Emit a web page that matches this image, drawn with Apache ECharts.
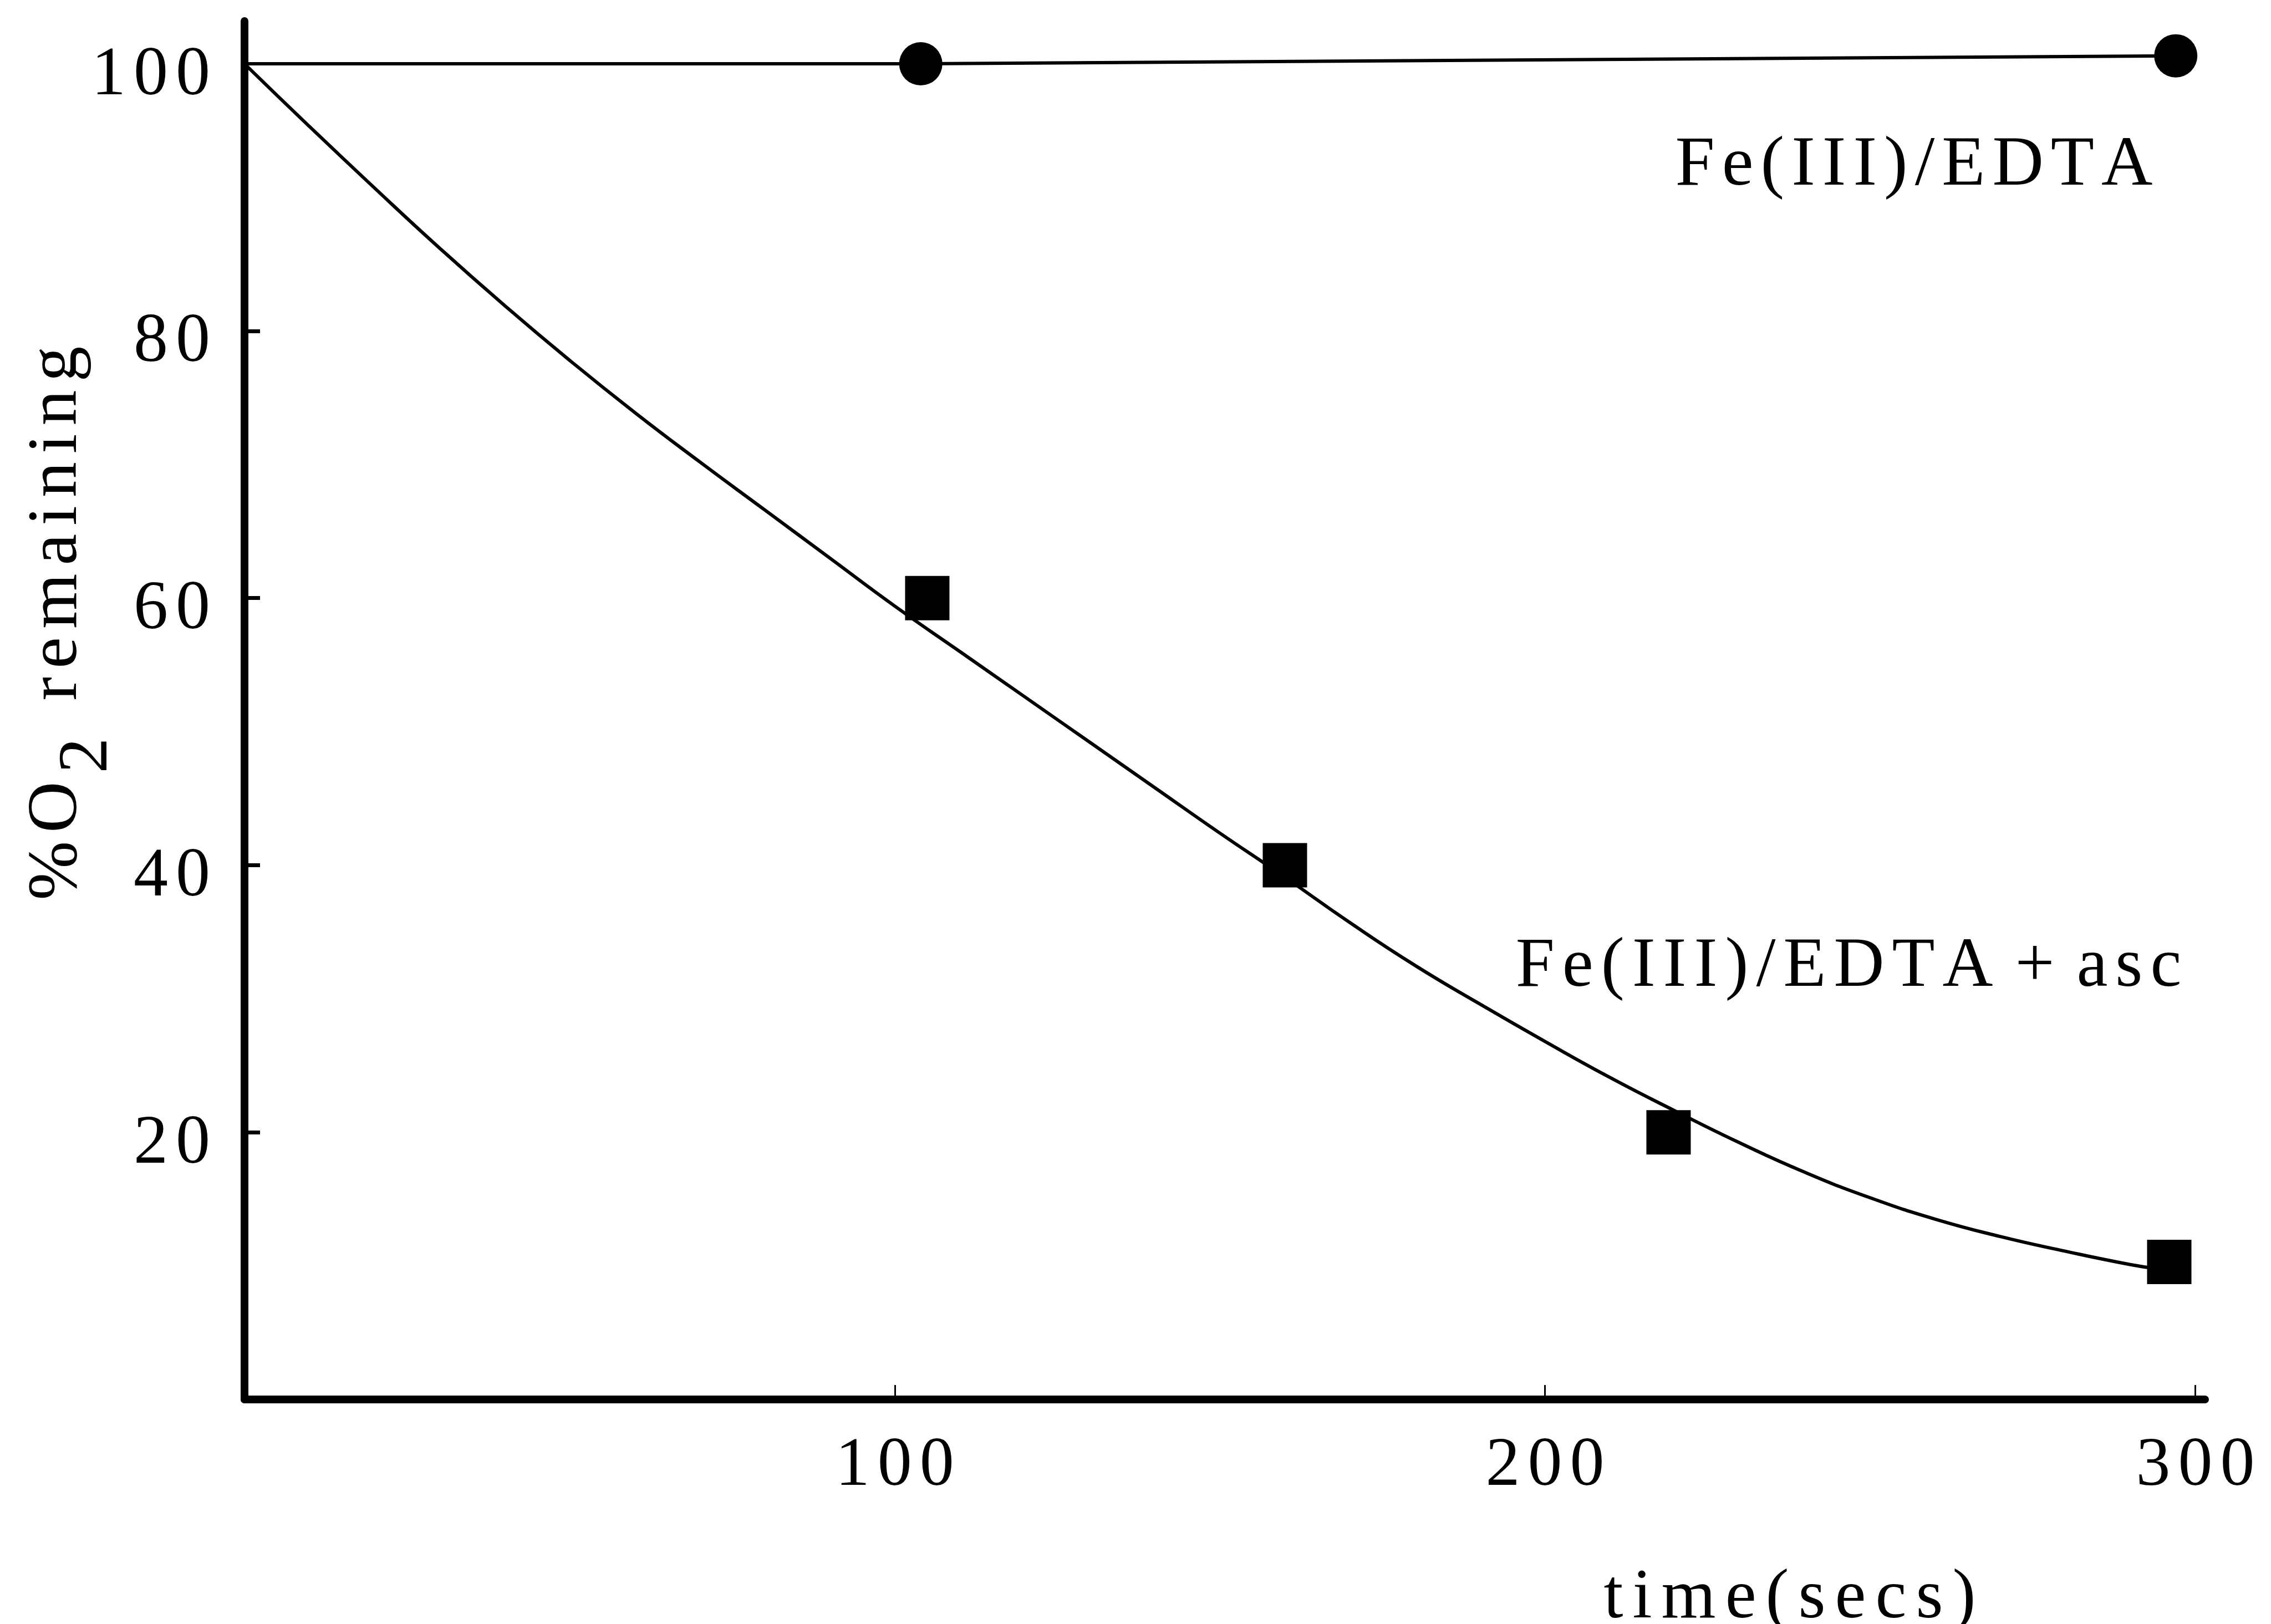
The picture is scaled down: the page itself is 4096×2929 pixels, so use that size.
<!DOCTYPE html>
<html>
<head>
<meta charset="utf-8">
<script src="https://cdn.jsdelivr.net/npm/echarts@6/dist/echarts.min.js"></script>
<style>
html,body{margin:0;padding:0;background:#ffffff;}
#chart{width:4096px;height:2929px;}
</style>
</head>
<body>
<div id="chart"></div>
<script>
// ---------- data ----------
const xTickValues = [100, 200, 300];
const yTickValues = [20, 40, 60, 80];
const yLabelValues = [20, 40, 60, 80, 100];

// Fe(III)/EDTA (filled circles, straight line from origin value)
const feEdtaT = [0, 104, 297];
const feEdtaY = [100, 100, 100.6];

// Fe(III)/EDTA + asc (filled squares)
const ascT = [105, 160, 219, 296];
const ascY = [60, 40, 20, 10.3];

// hand-drawn fitted curve through the squares (every 10 s)
const fitT = [0, 10, 20, 30, 40, 50, 60, 70, 80, 90, 100, 110, 120, 130, 140, 150, 160, 170, 180, 190, 200, 210, 220, 230, 240, 250, 260, 270, 280, 290, 294];
const fitY = [100, 95.3, 90.7, 86.2, 81.9, 77.8, 73.9, 70.2, 66.6, 63.0, 59.4, 56.0, 52.6, 49.2, 45.8, 42.4, 39.1, 35.7, 32.5, 29.6, 26.8, 24.1, 21.6, 19.2, 17.0, 15.1, 13.5, 12.2, 11.1, 10.1, 9.8];

const labelFeEdta = 'Fe(III)/EDTA';
const labelAsc = 'Fe(III)/EDTA + asc';
const xAxisName = 'time(secs)';
const yAxisNameMain = '%O';
const yAxisNameSub = '2';
const yAxisNameRest = 'remaining';

// ---------- helpers ----------
const FONT = '"Liberation Serif", "DejaVu Serif", serif';
function spaced(str, st, spSt) {
  return Array.from(str).map(function (ch) {
    return ch === ' ' ? '{' + spSt + '| }' : '{' + st + '|' + ch + '}';
  }).join('');
}
function pairs(a, b) { return a.map(function (v, i) { return [v, b[i]]; }); }

const chart = echarts.init(document.getElementById('chart'), null, {renderer: 'canvas'});

const tickRich = {
  d: {fontFamily: FONT, fontSize: 124, lineHeight: 126, color: '#000', padding: [0, 7, 0, 7]}
};

const yNameText =
  spaced(yAxisNameMain, 'm', 'sp') +
  spaced(yAxisNameSub, 'sub', 'sp') +
  '{sp| }' +
  spaced(yAxisNameRest, 'm', 'sp');

const option = {
  animation: false,
  backgroundColor: '#ffffff',
  grid: {left: 441, right: 119, top: 38, bottom: 405, containLabel: false, outerBoundsMode: 'none'},
  xAxis: {
    type: 'value',
    min: 0,
    max: 301.5,
    splitLine: {show: false},
    axisLine: {show: true, onZero: false, lineStyle: {color: '#000', width: 14, cap: 'round'}},
    axisTick: {show: true, inside: true, length: 26, customValues: xTickValues, lineStyle: {color: '#000', width: 3}},
    axisLabel: {
      show: true,
      customValues: xTickValues,
      margin: 58,
      formatter: function (v) { return spaced(String(v), 'd', 'd'); },
      rich: tickRich
    }
  },
  yAxis: {
    type: 'value',
    min: 0,
    max: 103.2,
    splitLine: {show: false},
    axisLine: {show: true, onZero: false, lineStyle: {color: '#000', width: 14, cap: 'round'}},
    axisTick: {show: true, inside: true, length: 28, customValues: yTickValues, lineStyle: {color: '#000', width: 7}},
    axisLabel: {
      show: true,
      customValues: yLabelValues,
      margin: 55,
      padding: [44, 0, 0, 0],
      formatter: function (v) { return spaced(String(v), 'd', 'd'); },
      rich: tickRich
    }
  },
  series: [
    {
      name: labelFeEdta,
      type: 'line',
      data: pairs(feEdtaT, feEdtaY).map(function (p, i) {
        return i === 0 ? {value: p, symbol: 'none'} : {value: p};
      }),
      symbol: 'circle',
      symbolSize: 78,
      showAllSymbol: true,
      itemStyle: {color: '#000', opacity: 1},
      lineStyle: {color: '#000', width: 6},
      clip: false,
      z: 3
    },
    {
      name: labelAsc + ' fit',
      type: 'line',
      data: pairs(fitT, fitY),
      smooth: 0.5,
      showSymbol: false,
      symbol: 'none',
      lineStyle: {color: '#000', width: 6},
      clip: false,
      z: 3
    },
    {
      name: labelAsc,
      type: 'scatter',
      data: pairs(ascT, ascY),
      symbol: 'rect',
      symbolSize: 80,
      itemStyle: {color: '#000', opacity: 1},
      clip: false,
      z: 4
    }
  ],
  graphic: [
    {
      type: 'text', x: 3452, y: 299, z: 10,
      style: {
        text: spaced(labelFeEdta, 'a', 'sp'),
        align: 'center', verticalAlign: 'middle', fill: '#000',
        rich: {
          a: {fontFamily: FONT, fontSize: 128, lineHeight: 130, color: '#000', padding: [0, 6.5, 0, 6.5]},
          sp: {fontFamily: FONT, fontSize: 96, lineHeight: 130, color: '#000'}
        }
      }
    },
    {
      type: 'text', x: 3334, y: 1745, z: 10,
      style: {
        text: spaced(labelAsc, 'a', 'sp'),
        align: 'center', verticalAlign: 'middle', fill: '#000',
        rich: {
          a: {fontFamily: FONT, fontSize: 126, lineHeight: 130, color: '#000', padding: [0, 7, 0, 7]},
          sp: {fontFamily: FONT, fontSize: 104, lineHeight: 130, color: '#000'}
        }
      }
    },
    {
      type: 'text', x: 3228, y: 2884, z: 10,
      style: {
        text: spaced(xAxisName, 'a', 'sp'),
        align: 'center', verticalAlign: 'middle', fill: '#000',
        rich: {
          a: {fontFamily: FONT, fontSize: 126, lineHeight: 130, color: '#000', padding: [0, 8.5, 0, 8.5]},
          sp: {fontFamily: FONT, fontSize: 96, lineHeight: 130, color: '#000'}
        }
      }
    },
    {
      type: 'text', x: 103, y: 1124, rotation: Math.PI / 2, z: 10,
      style: {
        text: yNameText,
        align: 'center', verticalAlign: 'middle', fill: '#000',
        rich: {
          m: {fontFamily: FONT, fontSize: 128, lineHeight: 238, color: '#000', padding: [0, 7.5, 0, 7.5]},
          sub: {fontFamily: FONT, fontSize: 128, lineHeight: 128, verticalAlign: 'bottom', color: '#000', padding: [0, 7.5, 0, 7.5]},
          sp: {fontFamily: FONT, fontSize: 128, lineHeight: 238, color: '#000', padding: [0, 10, 0, 10]}
        }
      }
    }
  ]
};

chart.setOption(option);
</script>
</body>
</html>
